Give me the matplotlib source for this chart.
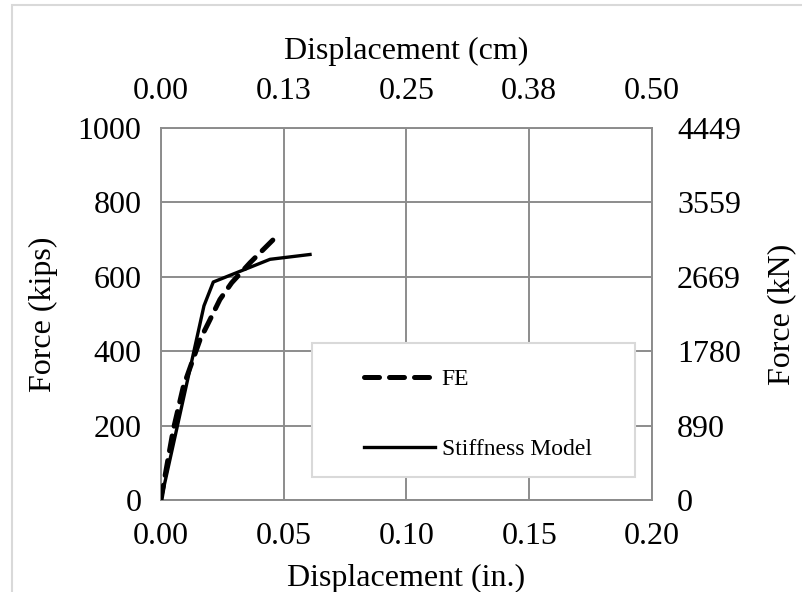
import matplotlib
matplotlib.use("Agg")
import matplotlib.pyplot as plt
from matplotlib.patches import Rectangle

# displacement (in.) / force (kips)
fe_disp = [0.0, 0.0016, 0.005, 0.0091, 0.0125, 0.0159, 0.0193, 0.024, 0.0288, 0.0363, 0.0465]
fe_force = [0, 63, 189, 305, 368, 431, 476, 539, 584, 638, 705]

sm_disp = [0.0, 0.0175, 0.0213, 0.0444, 0.0607]
sm_force = [0, 522, 586, 647, 660]

x_ticks = [0.00, 0.05, 0.10, 0.15, 0.20]
cm_labels = ["0.00", "0.13", "0.25", "0.38", "0.50"]
y_ticks = [0, 200, 400, 600, 800, 1000]
kn_labels = ["0", "890", "1780", "2669", "3559", "4449"]

plt.rcParams["font.family"] = ["Liberation Serif", "DejaVu Serif"]
W, H = 803, 592
FS = 23
fig = plt.figure(figsize=(W / 100, H / 100), dpi=100)
ax = fig.add_axes([161 / W, 1 - 500 / H, (652 - 161) / W, (500 - 128) / H])

grid_c = "#8c8c8c"
ax.plot(fe_disp, fe_force, color="black", lw=3.6, dashes=(3, 2),
        dash_capstyle="round", label="FE", zorder=4)
ax.plot(sm_disp, sm_force, color="black", lw=2.4, label="Stiffness Model", zorder=4)

ax.set_xlim(0, 0.2)
ax.set_ylim(0, 1000)
ax.set_xticks(x_ticks)
ax.set_xticklabels([f"{v:.2f}" for v in x_ticks])
ax.set_yticks(y_ticks)
ax.grid(True, color=grid_c, lw=1.4)
for s in ax.spines.values():
    s.set_color(grid_c)
    s.set_linewidth(1.4)
ax.tick_params(length=0, labelsize=FS, pad=14)
ax.tick_params(axis="x", pad=16)
ax.set_xlabel("Displacement (in.)", fontsize=FS, labelpad=9)
ax.set_ylabel("Force (kips)", fontsize=FS, labelpad=14)

axt = ax.twiny()
axt.set_xlim(ax.get_xlim())
axt.set_xticks(x_ticks)
axt.set_xticklabels(cm_labels)
axt.tick_params(length=0, labelsize=FS, pad=16)
axt.set_xlabel("Displacement (cm)", fontsize=FS, labelpad=13)

axr = ax.twinx()
axr.set_ylim(ax.get_ylim())
axr.set_yticks(y_ticks)
axr.set_yticklabels(kn_labels)
axr.tick_params(length=0, labelsize=FS, pad=18)
axr.set_ylabel("Force (kN)", fontsize=FS, labelpad=19)
for a in (axt, axr):
    for s in a.spines.values():
        s.set_visible(False)

# legend box
box = Rectangle((312 / W, 1 - 477 / H), (635 - 312) / W, (477 - 343) / H,
                transform=fig.transFigure, facecolor="white",
                edgecolor="#d9d9d9", lw=1.5, zorder=3)
axr.add_artist(box)
h, l = ax.get_legend_handles_labels()
leg = axr.legend(h, l, loc="upper left", bbox_to_anchor=(352 / W, 1 - 357 / H),
                 bbox_transform=fig.transFigure, frameon=False, fontsize=17,
                 handlelength=3.0, handletextpad=0.3, labelspacing=2.05, borderpad=0)
leg.set_zorder(5)

# outer border
fig.patches.append(Rectangle((12 / W, -0.1), 1.2, 1.1 - 4.5 / H, transform=fig.transFigure,
                             facecolor="none", edgecolor="#d9d9d9", lw=1.5))

fig.savefig("out.png", dpi=100)
